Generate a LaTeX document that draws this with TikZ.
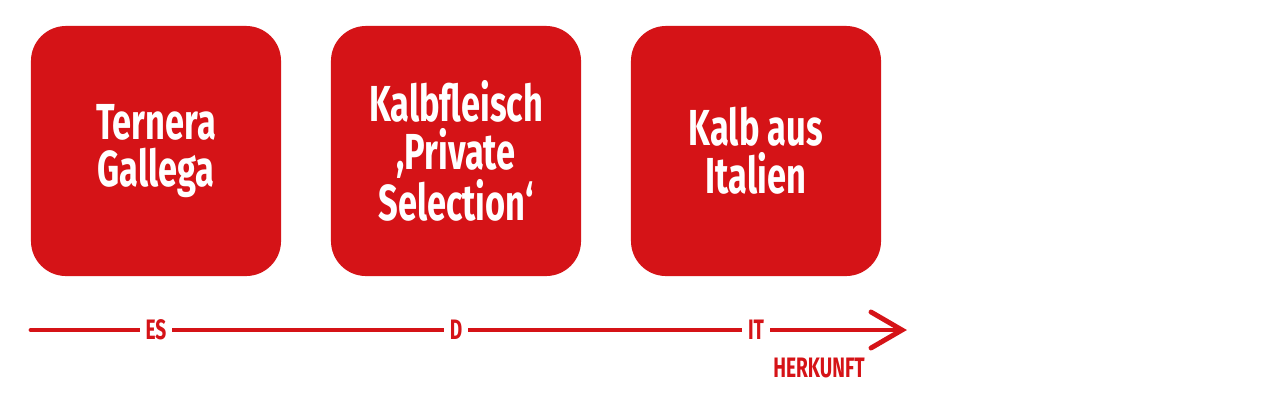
\documentclass[tikz,border=0pt]{standalone}
\usepackage{fontspec}
\newfontfamily\condfont{Fira Sans}[FakeStretch=0.68]
\definecolor{herkred}{HTML}{D51317}

\begin{document}
\begin{tikzpicture}[x=0.025cm,y=-0.025cm]
        \tikzstyle{box} = [fill=herkred,rounded corners=0.875cm,minimum width=6.25cm,minimum height=6.25cm,
          text=white,align=center,font=\condfont\bfseries\fontsize{36}{34}\selectfont]
        \tikzstyle{land} = [fill=white,text=herkred,inner xsep=4pt,inner ysep=1pt,font=\condfont\bfseries\fontsize{20}{22}\selectfont]
        \useasboundingbox (0,0) rectangle (1280,404);
        \foreach \l/\x/\t in {es/156/{Ternera\\Gallega}, d/456/{Kalbfleisch\\,Private\\Selection‘},
          it/756/{Kalb aus\\Italien}} {
          \node[box] (\l) at (\x,151) {\t};
        }

        \coordinate (start) at (31,330);
        \coordinate (end) at (902,330);
        \draw[herkred,line width=3.5pt,line cap=round] (start) -- (end);
        \draw[herkred,line width=3.5pt,line cap=round,line join=miter] (871,312) -- (end) -- (871,348);
        \foreach \l/\b in {es/ES, d/D, it/IT} {
          \node[land] (\l lab) at (\l |- start) {\b};
        }
        \node[text=herkred,font=\condfont\bfseries\fontsize{20}{22}\selectfont] (herkunft) at (819,368) {HERKUNFT};
      \end{tikzpicture}
\end{document}
